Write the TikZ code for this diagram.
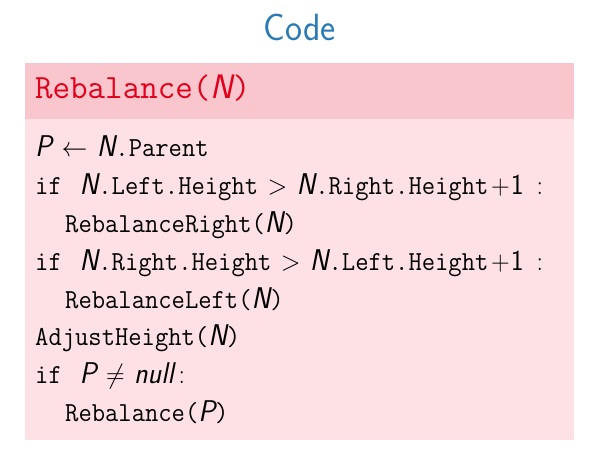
\documentclass[tikz,border=0pt]{standalone}
\usepackage{fix-cm}
\usepackage{graphicx}
\usepackage{fontspec}
\definecolor{hdrbg}{HTML}{F8C6CC}
\definecolor{bodybg}{HTML}{FDE1E5}
\definecolor{alertred}{HTML}{E3001B}
\definecolor{titleblue}{HTML}{2A7AB5}
\newcommand\vN{{\fontsize{30}{37}\selectfont\sffamily\itshape N}}
\newcommand\vP{{\fontsize{30}{37}\selectfont\sffamily\itshape P}}
\newcommand\vnull{{\fontsize{30}{37}\selectfont\sffamily\itshape null}}
\newcommand\vone{{\fontsize{29}{37}\selectfont\sffamily 1}}
\newcommand\vplus{\hspace{3pt}{\rmfamily+}\hspace{1pt}}
\newcommand\vcolon{\hspace{14pt}{\rmfamily:}}
\newcommand\vif{if\hspace{19pt}}
\newcommand\vrel[1]{\hspace{10pt}$#1$\hspace{10pt}}
\newcommand\sq[1]{\scalebox{0.94}[1]{#1}}
\begin{document}
\begin{tikzpicture}[x=1pt,y=-1pt,
  codeline/.style={anchor=base west,inner sep=0pt,font=\fontsize{27.5}{37}\selectfont\ttfamily},
  hdrline/.style={anchor=base west,inner sep=0pt,text=alertred,font=\fontsize{34}{40}\selectfont\ttfamily}]
\useasboundingbox (0,0) rectangle (592,454);
\fill[bodybg] (25,119) rectangle (574,440);
\fill[hdrbg] (25,63) rectangle (574,119);
\node[anchor=base,inner sep=0pt,text=titleblue,font=\fontsize{38}{44}\selectfont\sffamily] (title) at (300,41) {\scalebox{0.95}[1]{Code}};
\node[hdrline] (hdr) at (35,99) {Rebalance({\fontsize{34}{40}\selectfont\sffamily\itshape N})};
\node[codeline] (l1) at (35,157) {\sq{\vP\vrel{\leftarrow}\vN.Parent}};
\node[codeline] (l2) at (35,194.8) {\sq{\vif\vN.Left.Height\vrel{>}\vN.Right.Height\vplus\vone\vcolon}};
\node[codeline] (l3) at (65,232.6) {\sq{RebalanceRight(\vN)}};
\node[codeline] (l4) at (35,270.4) {\sq{\vif\vN.Right.Height\vrel{>}\vN.Left.Height\vplus\vone\vcolon}};
\node[codeline] (l5) at (65,308.2) {\sq{RebalanceLeft(\vN)}};
\node[codeline] (l6) at (35,346) {\sq{AdjustHeight(\vN)}};
\node[codeline] (l7) at (35,383.8) {\sq{\vif\vP\vrel{\neq}\vnull\hspace{5pt}{\rmfamily:}}};
\node[codeline] (l8) at (65,421.6) {\sq{Rebalance(\vP)}};
\end{tikzpicture}
\end{document}
